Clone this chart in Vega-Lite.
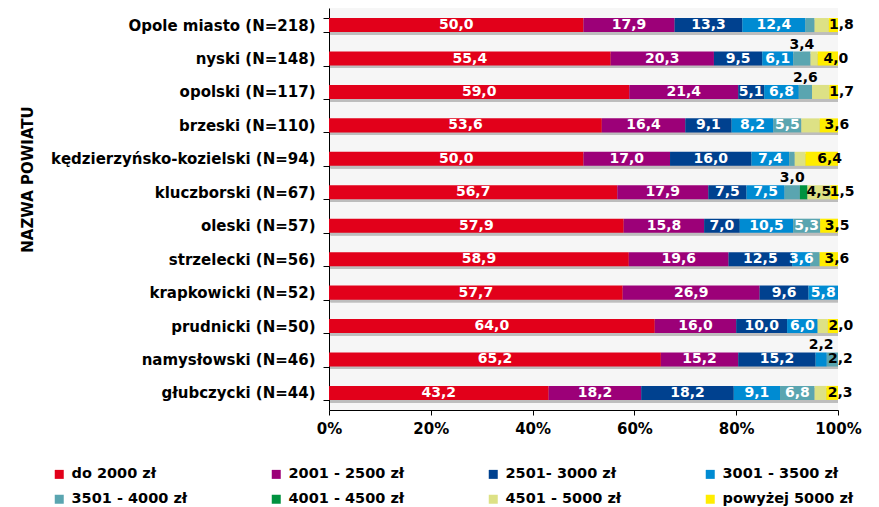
{
  "$schema": "https://vega.github.io/schema/vega-lite/v6.json",
  "width": 509,
  "height": 402,
  "autosize": {"type": "none"},
  "padding": {"left": 329, "top": 8, "right": 41, "bottom": 97},
  "background": "white",
  "config": {
    "view": {"fill": "#f6f6f6", "stroke": null},
    "font": "DejaVu Sans",
    "axis": {"labelFont": "DejaVu Sans", "titleFont": "DejaVu Sans"}
  },
  "data": {
    "values": [
      {"county": "Opole miasto (N=218)", "range": "do 2000 zł", "pct": 50.0, "label": "50,0"},
      {"county": "Opole miasto (N=218)", "range": "2001 - 2500 zł", "pct": 17.9, "label": "17,9"},
      {"county": "Opole miasto (N=218)", "range": "2501- 3000 zł", "pct": 13.3, "label": "13,3"},
      {"county": "Opole miasto (N=218)", "range": "3001 - 3500 zł", "pct": 12.4, "label": "12,4"},
      {"county": "Opole miasto (N=218)", "range": "3501 - 4000 zł", "pct": 1.8, "label": ""},
      {"county": "Opole miasto (N=218)", "range": "4501 - 5000 zł", "pct": 2.8, "label": ""},
      {"county": "Opole miasto (N=218)", "range": "powyżej 5000 zł", "pct": 1.8, "label": "1,8"},

      {"county": "nyski (N=148)", "range": "do 2000 zł", "pct": 55.4, "label": "55,4"},
      {"county": "nyski (N=148)", "range": "2001 - 2500 zł", "pct": 20.3, "label": "20,3"},
      {"county": "nyski (N=148)", "range": "2501- 3000 zł", "pct": 9.5, "label": "9,5"},
      {"county": "nyski (N=148)", "range": "3001 - 3500 zł", "pct": 6.1, "label": "6,1"},
      {"county": "nyski (N=148)", "range": "3501 - 4000 zł", "pct": 3.4, "label": "3,4"},
      {"county": "nyski (N=148)", "range": "4501 - 5000 zł", "pct": 1.4, "label": ""},
      {"county": "nyski (N=148)", "range": "powyżej 5000 zł", "pct": 4.0, "label": "4,0"},

      {"county": "opolski (N=117)", "range": "do 2000 zł", "pct": 59.0, "label": "59,0"},
      {"county": "opolski (N=117)", "range": "2001 - 2500 zł", "pct": 21.4, "label": "21,4"},
      {"county": "opolski (N=117)", "range": "2501- 3000 zł", "pct": 5.1, "label": "5,1"},
      {"county": "opolski (N=117)", "range": "3001 - 3500 zł", "pct": 6.8, "label": "6,8"},
      {"county": "opolski (N=117)", "range": "3501 - 4000 zł", "pct": 2.6, "label": "2,6"},
      {"county": "opolski (N=117)", "range": "4501 - 5000 zł", "pct": 3.4, "label": ""},
      {"county": "opolski (N=117)", "range": "powyżej 5000 zł", "pct": 1.7, "label": "1,7"},

      {"county": "brzeski (N=110)", "range": "do 2000 zł", "pct": 53.6, "label": "53,6"},
      {"county": "brzeski (N=110)", "range": "2001 - 2500 zł", "pct": 16.4, "label": "16,4"},
      {"county": "brzeski (N=110)", "range": "2501- 3000 zł", "pct": 9.1, "label": "9,1"},
      {"county": "brzeski (N=110)", "range": "3001 - 3500 zł", "pct": 8.2, "label": "8,2"},
      {"county": "brzeski (N=110)", "range": "3501 - 4000 zł", "pct": 5.5, "label": "5,5"},
      {"county": "brzeski (N=110)", "range": "4501 - 5000 zł", "pct": 3.6, "label": ""},
      {"county": "brzeski (N=110)", "range": "powyżej 5000 zł", "pct": 3.6, "label": "3,6"},

      {"county": "kędzierzyńsko-kozielski (N=94)", "range": "do 2000 zł", "pct": 50.0, "label": "50,0"},
      {"county": "kędzierzyńsko-kozielski (N=94)", "range": "2001 - 2500 zł", "pct": 17.0, "label": "17,0"},
      {"county": "kędzierzyńsko-kozielski (N=94)", "range": "2501- 3000 zł", "pct": 16.0, "label": "16,0"},
      {"county": "kędzierzyńsko-kozielski (N=94)", "range": "3001 - 3500 zł", "pct": 7.4, "label": "7,4"},
      {"county": "kędzierzyńsko-kozielski (N=94)", "range": "3501 - 4000 zł", "pct": 1.1, "label": ""},
      {"county": "kędzierzyńsko-kozielski (N=94)", "range": "4501 - 5000 zł", "pct": 2.1, "label": ""},
      {"county": "kędzierzyńsko-kozielski (N=94)", "range": "powyżej 5000 zł", "pct": 6.4, "label": "6,4"},

      {"county": "kluczborski (N=67)", "range": "do 2000 zł", "pct": 56.7, "label": "56,7"},
      {"county": "kluczborski (N=67)", "range": "2001 - 2500 zł", "pct": 17.9, "label": "17,9"},
      {"county": "kluczborski (N=67)", "range": "2501- 3000 zł", "pct": 7.5, "label": "7,5"},
      {"county": "kluczborski (N=67)", "range": "3001 - 3500 zł", "pct": 7.5, "label": "7,5"},
      {"county": "kluczborski (N=67)", "range": "3501 - 4000 zł", "pct": 3.0, "label": "3,0"},
      {"county": "kluczborski (N=67)", "range": "4001 - 4500 zł", "pct": 1.5, "label": ""},
      {"county": "kluczborski (N=67)", "range": "4501 - 5000 zł", "pct": 4.5, "label": "4,5"},
      {"county": "kluczborski (N=67)", "range": "powyżej 5000 zł", "pct": 1.5, "label": "1,5"},

      {"county": "oleski (N=57)", "range": "do 2000 zł", "pct": 57.9, "label": "57,9"},
      {"county": "oleski (N=57)", "range": "2001 - 2500 zł", "pct": 15.8, "label": "15,8"},
      {"county": "oleski (N=57)", "range": "2501- 3000 zł", "pct": 7.0, "label": "7,0"},
      {"county": "oleski (N=57)", "range": "3001 - 3500 zł", "pct": 10.5, "label": "10,5"},
      {"county": "oleski (N=57)", "range": "3501 - 4000 zł", "pct": 5.3, "label": "5,3"},
      {"county": "oleski (N=57)", "range": "powyżej 5000 zł", "pct": 3.5, "label": "3,5"},

      {"county": "strzelecki (N=56)", "range": "do 2000 zł", "pct": 58.9, "label": "58,9"},
      {"county": "strzelecki (N=56)", "range": "2001 - 2500 zł", "pct": 19.6, "label": "19,6"},
      {"county": "strzelecki (N=56)", "range": "2501- 3000 zł", "pct": 12.5, "label": "12,5"},
      {"county": "strzelecki (N=56)", "range": "3001 - 3500 zł", "pct": 3.6, "label": "3,6"},
      {"county": "strzelecki (N=56)", "range": "3501 - 4000 zł", "pct": 1.8, "label": ""},
      {"county": "strzelecki (N=56)", "range": "powyżej 5000 zł", "pct": 3.6, "label": "3,6"},

      {"county": "krapkowicki (N=52)", "range": "do 2000 zł", "pct": 57.7, "label": "57,7"},
      {"county": "krapkowicki (N=52)", "range": "2001 - 2500 zł", "pct": 26.9, "label": "26,9"},
      {"county": "krapkowicki (N=52)", "range": "2501- 3000 zł", "pct": 9.6, "label": "9,6"},
      {"county": "krapkowicki (N=52)", "range": "3001 - 3500 zł", "pct": 5.8, "label": "5,8"},

      {"county": "prudnicki (N=50)", "range": "do 2000 zł", "pct": 64.0, "label": "64,0"},
      {"county": "prudnicki (N=50)", "range": "2001 - 2500 zł", "pct": 16.0, "label": "16,0"},
      {"county": "prudnicki (N=50)", "range": "2501- 3000 zł", "pct": 10.0, "label": "10,0"},
      {"county": "prudnicki (N=50)", "range": "3001 - 3500 zł", "pct": 6.0, "label": "6,0"},
      {"county": "prudnicki (N=50)", "range": "4501 - 5000 zł", "pct": 2.0, "label": ""},
      {"county": "prudnicki (N=50)", "range": "powyżej 5000 zł", "pct": 2.0, "label": "2,0"},

      {"county": "namysłowski (N=46)", "range": "do 2000 zł", "pct": 65.2, "label": "65,2"},
      {"county": "namysłowski (N=46)", "range": "2001 - 2500 zł", "pct": 15.2, "label": "15,2"},
      {"county": "namysłowski (N=46)", "range": "2501- 3000 zł", "pct": 15.2, "label": "15,2"},
      {"county": "namysłowski (N=46)", "range": "3001 - 3500 zł", "pct": 2.2, "label": "2,2"},
      {"county": "namysłowski (N=46)", "range": "3501 - 4000 zł", "pct": 2.2, "label": "2,2"},

      {"county": "głubczycki (N=44)", "range": "do 2000 zł", "pct": 43.2, "label": "43,2"},
      {"county": "głubczycki (N=44)", "range": "2001 - 2500 zł", "pct": 18.2, "label": "18,2"},
      {"county": "głubczycki (N=44)", "range": "2501- 3000 zł", "pct": 18.2, "label": "18,2"},
      {"county": "głubczycki (N=44)", "range": "3001 - 3500 zł", "pct": 9.1, "label": "9,1"},
      {"county": "głubczycki (N=44)", "range": "3501 - 4000 zł", "pct": 6.8, "label": "6,8"},
      {"county": "głubczycki (N=44)", "range": "4501 - 5000 zł", "pct": 2.3, "label": ""},
      {"county": "głubczycki (N=44)", "range": "powyżej 5000 zł", "pct": 2.3, "label": "2,3"}
    ]
  },
  "transform": [
    {"calculate": "indexof(['do 2000 zł','2001 - 2500 zł','2501- 3000 zł','3001 - 3500 zł','3501 - 4000 zł','4001 - 4500 zł','4501 - 5000 zł','powyżej 5000 zł'], datum.range)", "as": "k"},
    {"stack": "pct", "groupby": ["county"], "sort": [{"field": "k", "order": "ascending"}], "offset": "normalize", "as": ["x0", "x1"]},
    {"window": [{"op": "row_number", "as": "rev"}], "groupby": ["county"], "sort": [{"field": "k", "order": "descending"}]},
    {"calculate": "(datum.x0 + datum.x1) / 2", "as": "xm"}
  ],
  "encoding": {
    "y": {
      "field": "county",
      "type": "nominal",
      "sort": ["Opole miasto (N=218)", "nyski (N=148)", "opolski (N=117)", "brzeski (N=110)", "kędzierzyńsko-kozielski (N=94)", "kluczborski (N=67)", "oleski (N=57)", "strzelecki (N=56)", "krapkowicki (N=52)", "prudnicki (N=50)", "namysłowski (N=46)", "głubczycki (N=44)"],
      "scale": {"paddingInner": 0.58, "paddingOuter": 0.3},
      "title": "NAZWA POWIATU",
      "axis": {
        "tickBand": "extent",
        "tickSize": 6,
        "tickColor": "#000000",
        "domainColor": "#000000",
        "labelPadding": 8,
        "labelFontSize": 15,
        "labelFontWeight": "bold",
        "labelColor": "#000000",
        "labelLimit": 320,
        "titleFontSize": 15,
        "titleFontWeight": "bold",
        "titleColor": "#000000",
        "titleX": -294,
        "titleY": 171,
        "titleAngle": -90,
        "titleBaseline": "bottom",
        "titleAlign": "center"
      }
    }
  },
  "layer": [
    {
      "mark": {"type": "bar", "color": "#bdbdbd", "yOffset": 2.5, "xOffset": 1.5},
      "encoding": {
        "x": {"datum": 0, "type": "quantitative"},
        "x2": {"datum": 1}
      }
    },
    {
      "mark": {"type": "bar"},
      "encoding": {
        "x": {
          "field": "x0",
          "type": "quantitative",
          "scale": {"domain": [0, 1], "nice": false},
          "title": null,
          "axis": {
            "format": ".0%",
            "values": [0, 0.2, 0.4, 0.6, 0.8, 1],
            "grid": false,
            "tickSize": 5,
            "tickColor": "#000000",
            "domainColor": "#000000",
            "labelPadding": 6,
            "labelFontSize": 15,
            "labelFontWeight": "bold",
            "labelColor": "#000000",
            "labelFlush": false
          }
        },
        "x2": {"field": "x1"},
        "color": {
          "field": "range",
          "type": "nominal",
          "scale": {
            "domain": ["do 2000 zł", "2001 - 2500 zł", "2501- 3000 zł", "3001 - 3500 zł", "3501 - 4000 zł", "4001 - 4500 zł", "4501 - 5000 zł", "powyżej 5000 zł"],
            "range": ["#e2001a", "#9c0078", "#00418f", "#008bd2", "#5aa5b0", "#00923f", "#dde185", "#ffed00"]
          },
          "legend": {
            "orient": "none",
            "legendX": -277,
            "legendY": 459,
            "direction": "horizontal",
            "columns": 4,
            "gridAlign": "all",
            "columnPadding": 66,
            "rowPadding": 10,
            "title": null,
            "symbolType": "square",
            "symbolSize": 81,
            "symbolStrokeWidth": 0,
            "symbolOpacity": 1,
            "labelFontSize": 14.5,
            "labelFontWeight": "bold",
            "labelColor": "#000000",
            "labelOffset": 5,
            "labelLimit": 300
          }
        },
        "order": {"field": "k"}
      }
    },
    {
      "transform": [
        {"filter": "datum.label != '' && !(datum.pct < 3.5 && datum.rev > 1) && !(datum.rev == 1 && (datum.range == 'powyżej 5000 zł' || datum.pct < 3.5))"}
      ],
      "mark": {"type": "text", "fontSize": 14, "fontWeight": "bold", "baseline": "middle", "align": "center"},
      "encoding": {
        "x": {"field": "xm", "type": "quantitative"},
        "text": {"field": "label"},
        "color": {
          "condition": {"test": "datum.range == '4501 - 5000 zł'", "value": "#000000"},
          "value": "#ffffff"
        }
      }
    },
    {
      "transform": [
        {"filter": "datum.label != '' && datum.rev == 1 && (datum.range == 'powyżej 5000 zł' || datum.pct < 3.5)"}
      ],
      "mark": {"type": "text", "fontSize": 14, "fontWeight": "bold", "baseline": "middle", "align": "center", "dx": 8, "color": "#000000"},
      "encoding": {
        "x": {"field": "xm", "type": "quantitative"},
        "text": {"field": "label"}
      }
    },
    {
      "transform": [
        {"filter": "datum.label != '' && datum.pct < 3.5 && datum.rev > 1"}
      ],
      "mark": {"type": "text", "fontSize": 14, "fontWeight": "bold", "baseline": "middle", "align": "center", "dy": -14, "color": "#000000"},
      "encoding": {
        "x": {"field": "xm", "type": "quantitative"},
        "text": {"field": "label"}
      }
    }
  ]
}
